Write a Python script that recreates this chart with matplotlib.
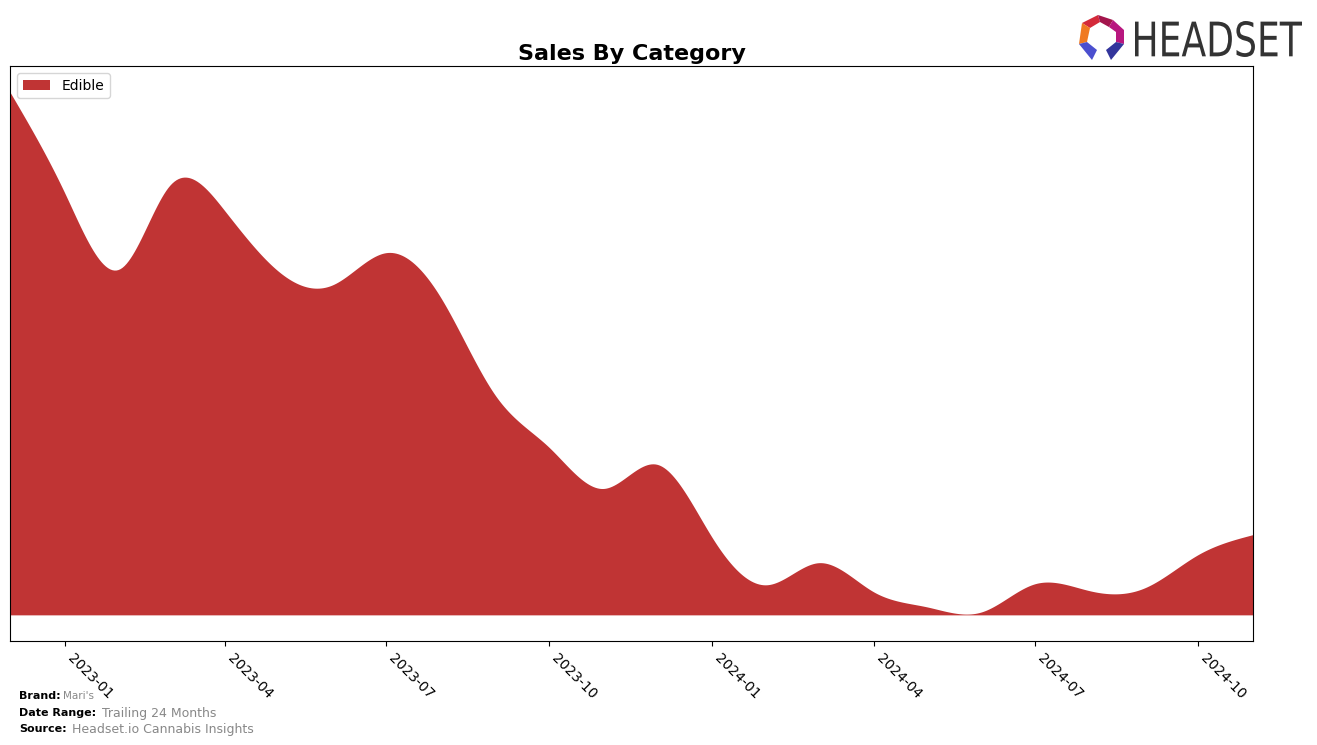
import matplotlib
matplotlib.use("Agg")
import matplotlib.pyplot as plt
import matplotlib.dates as mdates
import numpy as np
import pandas as pd
from matplotlib.patches import Polygon, PathPatch
from matplotlib.textpath import TextPath
from matplotlib.font_manager import FontProperties
from matplotlib.transforms import Affine2D

# monthly sales, Edible (arbitrary units)
months = pd.date_range("2022-12-01", "2024-11-01", freq="MS")
edible = [521, 420, 345, 428, 403, 343, 329, 361, 316, 218, 167, 126,
          150, 77, 30, 52, 23, 8, 3, 31, 24, 27, 60, 80]
category = "Edible"
color = "#C03434"

brand = "Mari's"
date_range = "Trailing 24 Months"
source = "Headset.io Cannabis Insights"


def natural_spline(x, y, xs):
    x = np.asarray(x, float)
    y = np.asarray(y, float)
    n = len(x)
    h = np.diff(x)
    A = np.zeros((n, n))
    b = np.zeros(n)
    A[0, 0] = A[-1, -1] = 1
    for i in range(1, n - 1):
        A[i, i - 1] = h[i - 1]
        A[i, i] = 2 * (h[i - 1] + h[i])
        A[i, i + 1] = h[i]
        b[i] = 3 * ((y[i + 1] - y[i]) / h[i] - (y[i] - y[i - 1]) / h[i - 1])
    c = np.linalg.solve(A, b)
    idx = np.clip(np.searchsorted(x, xs) - 1, 0, n - 2)
    dx = xs - x[idx]
    bb = (y[idx + 1] - y[idx]) / h[idx] - h[idx] * (2 * c[idx] + c[idx + 1]) / 3
    dd = (c[idx + 1] - c[idx]) / (3 * h[idx])
    return y[idx] + bb * dx + c[idx] * dx ** 2 + dd * dx ** 3


xnum = mdates.date2num(months)
xs = np.linspace(xnum[0], xnum[-1], 600)
ys = natural_spline(xnum, edible, xs)

fig = plt.figure(figsize=(13.17, 7.45), dpi=100)
ax = fig.add_axes([10 / 1317, 1 - 641 / 745, 1243 / 1317, 575 / 745])
ax.fill_between(mdates.num2date(xs), ys, 0, color=color, linewidth=0, label=category)
ax.set_xlim(months[0], months[-1])
ax.margins(y=0.05)
ax.set_yticks([])
ax.xaxis.set_major_locator(mdates.MonthLocator(bymonth=[1, 4, 7, 10]))
ax.xaxis.set_major_formatter(mdates.DateFormatter("%Y-%m"))
for lab in ax.get_xticklabels():
    lab.set_rotation(-45)
    lab.set_ha("left")
ax.tick_params(axis="x", labelsize=10)
ax.set_title("Sales By Category", fontsize=16, fontweight="bold", pad=4)
ax.legend(loc="upper left", fontsize=10, handlelength=2)

# footer
fig.text(19 / 1317, 1 - 696 / 745, "Brand:", fontsize=8, fontweight="bold", va="center")
fig.text(63 / 1317, 1 - 696 / 745, brand, fontsize=7.5, color="#888888", va="center")
fig.text(19 / 1317, 1 - 713 / 745, "Date Range:", fontsize=8, fontweight="bold", va="center")
fig.text(102 / 1317, 1 - 713 / 745, date_range, fontsize=9, color="#888888", va="center")
fig.text(19 / 1317, 1 - 729 / 745, "Source:", fontsize=8, fontweight="bold", va="center")
fig.text(72 / 1317, 1 - 729 / 745, source, fontsize=9, color="#888888", va="center")

# logo, drawn in pixel space of a small overlay axes
lax = fig.add_axes([1075 / 1317, 1 - 62 / 745, 235 / 1317, 52 / 745])
lax.set_xlim(1075, 1310)
lax.set_ylim(62, 10)
lax.axis("off")
pieces = [
    ([(1082, 23), (1098, 15), (1100, 22), (1090, 28)], "#D42A3A"),
    ([(1098, 15), (1113, 20), (1109, 27), (1100, 22)], "#A3154C"),
    ([(1113, 20), (1124, 30), (1124, 44), (1116, 42), (1116, 32), (1109, 27)], "#B8177F"),
    ([(1082, 23), (1090, 28), (1087, 42), (1079, 44)], "#F07A22"),
    ([(1079, 44), (1087, 42), (1097, 50), (1092, 60)], "#4B4FCF"),
    ([(1124, 44), (1116, 42), (1106, 50), (1111, 60)], "#33359C"),
]
for pts, c in pieces:
    lax.add_patch(Polygon(pts, closed=True, color=c, lw=0))

tp = TextPath((0, 0), "HEADSET", size=10, prop=FontProperties(family="DejaVu Sans"))
bb = tp.get_extents()
sx = (1302 - 1135) / bb.width
sy = (57 - 21) / bb.height
tr = Affine2D().translate(-bb.x0, -bb.y0).scale(sx, -sy).translate(1135, 57)
lax.add_patch(PathPatch(tr.transform_path(tp), color="#333333", lw=0))

fig.savefig("out.png", dpi=100)
